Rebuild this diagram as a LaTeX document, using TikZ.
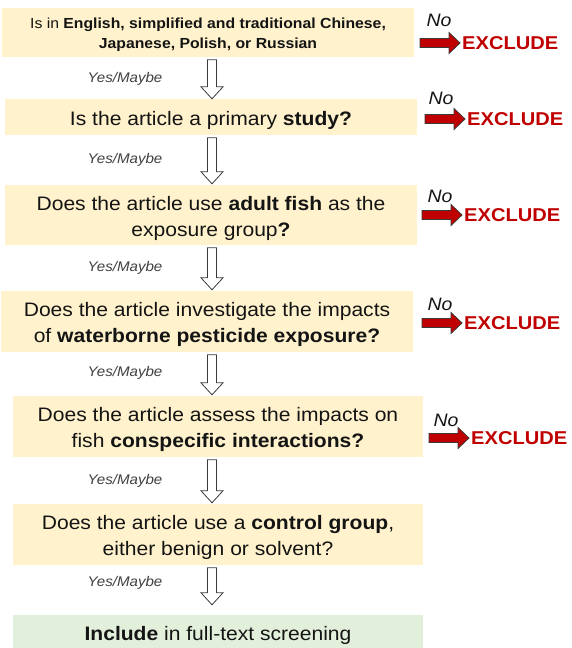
\documentclass[tikz,border=0pt]{standalone}
\usepackage{fontspec}
\setmainfont{Liberation Sans}[FakeStretch=1.08]
\usetikzlibrary{calc}
\definecolor{boxfill}{HTML}{FFF2CC}
\definecolor{greenfill}{HTML}{E2EFDA}
\definecolor{exred}{HTML}{C00000}
\definecolor{txt}{HTML}{141414}
\definecolor{ymgray}{HTML}{404040}
\definecolor{outl}{HTML}{3A3A3A}
\newcommand\hollowarr[3]{%
\path[harrow] let \p1=($(#1.south -| axis)+(0,-2.5pt)$), \p2=($(#2.north -| axis)+(0,#3)$) in
 (\x1-4.5pt,\y1) -- (\x1+4.5pt,\y1) -- (\x1+4.5pt,\y2+12pt) -- (\x1+11pt,\y2+12pt) -- (\x1,\y2) -- (\x1-11pt,\y2+12pt) -- (\x1-4.5pt,\y2+12pt) -- cycle;}
\newcommand\redarr[1]{%
\path[rarrow] let \p1=(#1.west) in
 (\x1-42pt,\y1+4.5pt) -- (\x1-13pt,\y1+4.5pt) -- (\x1-13pt,\y1+10.5pt) -- (\x1-2pt,\y1) -- (\x1-13pt,\y1-10.5pt) -- (\x1-13pt,\y1-4.5pt) -- (\x1-42pt,\y1-4.5pt) -- cycle;}
\begin{document}
\begin{tikzpicture}[x=1pt,y=-1pt,
 qbox/.style={fill=boxfill, inner sep=0pt, minimum width=412pt},
 gbox/.style={qbox, fill=greenfill, minimum width=410pt},
 qtext/.style={inner sep=0pt, align=center, text=txt, font=\fontsize{19.5}{26.5}\selectfont},
 smallq/.style={font=\fontsize{14.6}{20}\selectfont},
 ym/.style={font=\itshape\fontsize{14}{16}\selectfont, text=ymgray, inner sep=0pt},
 nolab/.style={font=\itshape\fontsize{18}{20}\selectfont, text=txt, inner sep=0pt},
 exlab/.style={font=\bfseries\fontsize{18.6}{20}\selectfont, text=exred, inner sep=0pt, anchor=west},
 harrow/.style={draw=outl, fill=white, line width=0.8pt, line join=miter},
 rarrow/.style={draw=outl, fill=exred, line width=0.8pt, line join=miter}]
\useasboundingbox (0,0) rectangle (571,648);
\coordinate (axis) at (212,0);
% boxes
\node[qbox, minimum height=49pt] (b1) at (208,32.5) {};
\node[qbox, minimum height=36pt] (b2) at (211,117) {};
\node[qbox, minimum height=60pt] (b3) at (211,215) {};
\node[qbox, minimum height=61pt] (b4) at (207,321.5) {};
\node[qbox, minimum height=61pt, minimum width=410pt] (b5) at (218,426.5) {};
\node[qbox, minimum height=61pt, minimum width=410pt] (b6) at (218,534.5) {};
\node[gbox, minimum height=33pt] (b7) at (218,631.5) {};
% box texts
\node[qtext, smallq] (t1) at ($(b1.center)+(0,-2pt)$) {Is in \textbf{English, simplified and traditional Chinese,}\\\textbf{Japanese, Polish, or Russian}};
\node[qtext] (t2) at ($(b2.center)+(0,-3.5pt)$) {Is the article a primary \textbf{study?}};
\node[qtext] (t3) at ($(b3.center)+(0,-3.5pt)$) {Does the article use \textbf{adult fish} as the\\exposure group\textbf{?}};
\node[qtext] (t4) at ($(b4.center)+(0,-3pt)$) {Does the article investigate the impacts\\of \textbf{waterborne pesticide exposure?}};
\node[qtext] (t5) at ($(b5.center)+(0,-3pt)$) {Does the article assess the impacts on\\fish \textbf{conspecific interactions?}};
\node[qtext] (t6) at ($(b6.center)+(0,-3pt)$) {Does the article use a \textbf{control group},\\either benign or solvent?};
\node[qtext] (t7) at ($(b7.center)+(0,-4pt)$) {\textbf{Include} in full-text screening};
% down arrows
\hollowarr{b1}{b2}{0pt}
\hollowarr{b2}{b3}{1pt}
\hollowarr{b3}{b4}{1pt}
\hollowarr{b4}{b5}{1pt}
\hollowarr{b5}{b6}{1pt}
\hollowarr{b6}{b7}{10pt}
% yes/maybe labels
\node[ym] (y1) at (125,79) {Yes/Maybe};
\node[ym] (y2) at (125,160) {Yes/Maybe};
\node[ym] (y3) at (125,268) {Yes/Maybe};
\node[ym] (y4) at (125,373) {Yes/Maybe};
\node[ym] (y5) at (125,481) {Yes/Maybe};
\node[ym] (y6) at (125,583) {Yes/Maybe};
% no labels
\node[nolab] (n1) at (439,20) {No};
\node[nolab] (n2) at (441,98) {No};
\node[nolab] (n3) at (440,196) {No};
\node[nolab] (n4) at (440,304) {No};
\node[nolab] (n5) at (446,420) {No};
% exclude labels
\node[exlab] (e1) at (462,43) {EXCLUDE};
\node[exlab] (e2) at (467,119) {EXCLUDE};
\node[exlab] (e3) at (464,215) {EXCLUDE};
\node[exlab] (e4) at (464,323) {EXCLUDE};
\node[exlab] (e5) at (471,438) {EXCLUDE};
\redarr{e1}
\redarr{e2}
\redarr{e3}
\redarr{e4}
\redarr{e5}
\end{tikzpicture}
\end{document}
